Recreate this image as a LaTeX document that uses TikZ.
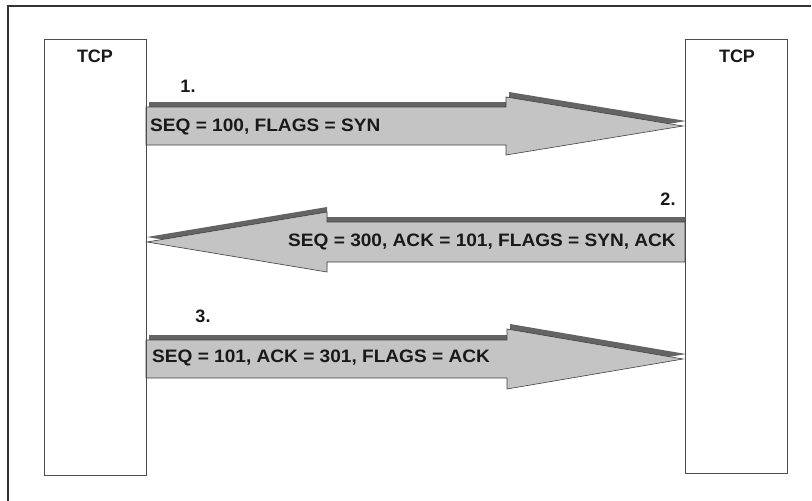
\documentclass[tikz,border=0pt]{standalone}
\usepackage{fontspec}
\setmainfont{Liberation Sans}
\definecolor{arrowgray}{RGB}{196,196,196}
\definecolor{shadowgray}{RGB}{100,100,100}
\newcommand\FatArrow[6]{({#1},{#4-#5}) -- ({#2},{#4-#5}) -- ({#2},{#4-#6}) -- ({#3},{#4}) -- ({#2},{#4+#6}) -- ({#2},{#4+#5}) -- ({#1},{#4+#5}) -- cycle}
\tikzset{
  tcpbox/.style={draw=black!70, line width=0.8pt, minimum width=102pt, minimum height=436pt, inner sep=0pt, anchor=north west},
  arrowbody/.style={fill=arrowgray, draw=black!75, line width=0.6pt, line join=miter},
  arrowshadow/.style={fill=shadowgray},
  lbl/.style={font=\bfseries\fontsize{18}{21}\selectfont, inner sep=0pt, text=black!90},
  msg/.style={lbl, anchor=west},
}
\begin{document}
\begin{tikzpicture}[x=1pt,y=-1pt]
\useasboundingbox (0,0) rectangle (812,501);
% outer frame
\draw[line width=1.6pt, black!80] (8,501) -- (8,6) -- (811,6);
% arrows: shadows then bodies
\fill[arrowshadow, shift={(3,-5)}] \FatArrow{146}{506}{683}{126}{19}{29};
\draw[arrowbody] \FatArrow{146}{506}{683}{126}{19}{29};
\fill[arrowshadow, shift={(0,-5)}] \FatArrow{685}{327}{147}{242}{20}{30};
\draw[arrowbody] \FatArrow{685}{327}{147}{242}{20}{30};
\fill[arrowshadow, shift={(3,-5)}] \FatArrow{146}{507}{683}{359}{19}{30};
\draw[arrowbody] \FatArrow{146}{507}{683}{359}{19}{30};
% TCP boxes
\node[tcpbox] (tcpA) at (44,39) {};
\node[tcpbox, minimum height=434pt] (tcpB) at (685,39) {};
\node[lbl] (tcpAlab) at (95,56) {TCP};
\node[lbl] (tcpBlab) at (737,56) {TCP};
% step numbers
\node[lbl] (n1) at (188,86) {1.};
\node[lbl] (n2) at (668,199) {2.};
\node[lbl] (n3) at (203,316) {3.};
% messages
\node[msg] (m1) at (150,127) {\scalebox{1.06}[1]{SEQ = 100, FLAGS = SYN}};
\node[msg, anchor=east] (m2) at (676,242) {\scalebox{1.06}[1]{SEQ = 300, ACK = 101, FLAGS = SYN, ACK}};
\node[msg] (m3) at (152,358) {\scalebox{1.06}[1]{SEQ = 101, ACK = 301, FLAGS = ACK}};
\end{tikzpicture}
\end{document}
